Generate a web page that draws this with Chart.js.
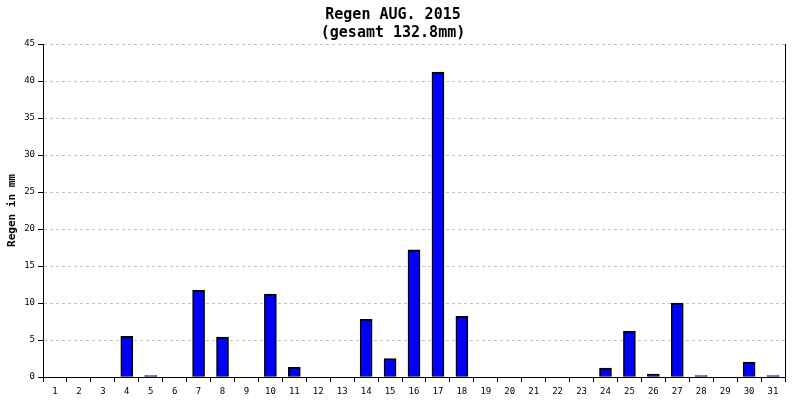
<!DOCTYPE html>
<html>
<head>
<meta charset="utf-8">
<script src="https://cdn.jsdelivr.net/npm/chart.js@4"></script>
<style>
  html, body { margin: 0; padding: 0; background: #fff; }
  #wrap { width: 800px; height: 400px; }
</style>
</head>
<body>
<div id="wrap"><canvas id="chart"></canvas></div>
<script>
const days = ['1','2','3','4','5','6','7','8','9','10','11','12','13','14','15','16',
  '17','18','19','20','21','22','23','24','25','26','27','28','29','30','31'];
const rain = [0, 0, 0, 5.5, 0.2, 0, 11.7, 5.4, 0, 11.2, 1.3, 0, 0, 7.8, 2.5, 17.2,
  41.2, 8.2, 0, 0, 0, 0, 0, 1.2, 6.2, 0.4, 10.0, 0.2, 0, 2.0, 0.2];
const titleLines = ['Regen AUG. 2015', '(gesamt 132.8mm)'];
const yTitle = 'Regen in mm';

const FONT = '"DejaVu Sans Mono", monospace';

new Chart(document.getElementById('chart'), {
  type: 'bar',
  data: {
    labels: days,
    datasets: [{
      data: rain,
      backgroundColor: '#0000ff',
      borderColor: '#000',
      borderWidth: { top: 2, left: 1.5, right: 1.5, bottom: 1 },
      borderSkipped: false,
      barThickness: 12,
      categoryPercentage: 1.0
    }]
  },
  options: {
    responsive: true,
    maintainAspectRatio: false,
    animation: false,
    layout: { padding: { left: 0, right: 14, top: 0, bottom: 0 } },
    plugins: {
      legend: { display: false },
      tooltip: { enabled: false },
      title: {
        display: true,
        text: titleLines,
        color: '#000',
        font: { family: FONT, size: 15, weight: 'bold', lineHeight: 1.2 },
        padding: { top: 6, bottom: 2 }
      }
    },
    scales: {
      x: {
        offset: true,
        grid: { offset: true, drawOnChartArea: false, drawTicks: true, tickLength: 5, color: '#000' },
        border: { color: '#000', width: 1 },
        ticks: { color: '#000', font: { family: FONT, size: 9 }, maxRotation: 0, autoSkip: false, padding: 4 },
        afterFit: s => { s.height = 23; }
      },
      y: {
        min: 0,
        max: 45,
        ticks: { stepSize: 5, color: '#000', font: { family: FONT, size: 9 }, padding: 3 },
        grid: { color: '#c4c4c4', tickColor: '#000', tickLength: 5, drawTicks: true },
        // in v4 border.dash dashes the grid lines, the axis line stays solid
        border: { color: '#000', width: 1, dash: [3, 3] },
        title: { display: true, text: yTitle, color: '#000', font: { family: FONT, size: 11, weight: 'bold' }, padding: 6 },
        afterFit: s => { s.width = 43; }
      },
      y2: {
        position: 'right',
        min: 0,
        max: 45,
        ticks: { display: false },
        grid: { drawOnChartArea: false, drawTicks: false },
        border: { color: '#000', width: 1 },
        afterFit: s => { s.width = 1; }
      }
    }
  }
});
</script>
</body>
</html>
